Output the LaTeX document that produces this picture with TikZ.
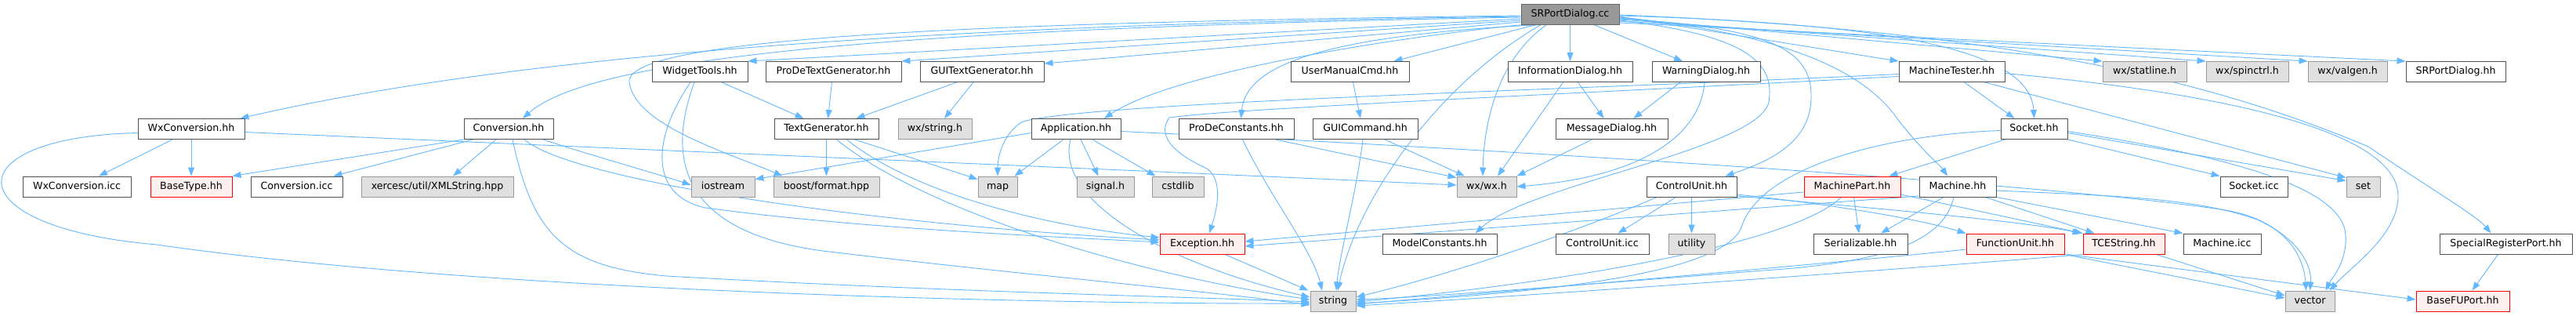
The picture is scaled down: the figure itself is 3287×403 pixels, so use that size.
\documentclass[tikz,border=0pt]{standalone}
\usepackage{fontspec}
\setmainfont{DejaVu Sans}
\usetikzlibrary{arrows.meta}
\pgfdeclarelayer{edgelayer}
\pgfsetlayers{edgelayer,main}
\definecolor{edgec}{HTML}{63B8FF}
\definecolor{nborder}{HTML}{505050}
\definecolor{extfill}{HTML}{E0E0E0}
\definecolor{extborder}{HTML}{999999}
\definecolor{redfill}{HTML}{FFF0F0}
\definecolor{mainfill}{HTML}{999999}
\definecolor{mainborder}{HTML}{666666}
\tikzset{
  basebox/.style={rectangle, line width=0.9pt, minimum height=26pt, inner xsep=2pt, inner ysep=0pt,
    text height=9.2pt, text depth=2.8pt, font=\fontsize{12.6}{14}\selectfont},
  plainbox/.style={basebox, draw=nborder, fill=white},
  extbox/.style={basebox, draw=extborder, fill=extfill},
  redbox/.style={basebox, draw=red, fill=redfill},
  mainbox/.style={basebox, draw=mainborder, fill=mainfill},
  e/.style={draw=edgec, line width=0.9pt, -{Triangle[length=11pt,width=8pt,fill=edgec]}},
}
\newcommand\nd[6]{\node[#5, minimum width={#3-#2}] (#1) at ({(#2+#3)/2},#4) {#6};}
\begin{document}
\begin{tikzpicture}[x=1pt,y=-1pt]
\useasboundingbox (0,0) rectangle (3287,403);
\begin{pgfonlayer}{edgelayer}
\fill[white] (0,0) rectangle (3287,403);
\end{pgfonlayer}
% rows
\def\ra{18}\def\rb{91.5}\def\rc{164.5}\def\rd{238}\def\re{311}\def\rf{384}
\nd{S}{1941}{2066}{\ra}{mainbox}{SRPortDialog.cc}
\nd{wxconvh}{176}{312}{\rc}{plainbox}{WxConversion.hh}
\nd{convh}{592}{706}{\rc}{plainbox}{Conversion.hh}
\nd{wxconvicc}{29}{167}{\rd}{plainbox}{WxConversion.icc}
\nd{basetype}{192}{296}{\rd}{redbox}{BaseType.hh}
\nd{convicc}{320}{437}{\rd}{plainbox}{Conversion.icc}
\nd{xmlstr}{461}{655}{\rd}{extbox}{xercesc/util/XMLString.hpp}
\nd{widget}{832}{954}{\rb}{plainbox}{WidgetTools.hh}
\nd{prodetg}{977}{1150}{\rb}{plainbox}{ProDeTextGenerator.hh}
\nd{guitg}{1174}{1332}{\rb}{plainbox}{GUITextGenerator.hh}
\nd{textgen}{988}{1121}{\rc}{plainbox}{TextGenerator.hh}
\nd{wxstring}{1146}{1240}{\rc}{extbox}{wx/string.h}
\nd{app}{1316}{1430}{\rc}{plainbox}{Application.hh}
\nd{prodeconst}{1504}{1651}{\rc}{plainbox}{ProDeConstants.hh}
\nd{iostream}{882}{963}{\rd}{extbox}{iostream}
\nd{boost}{987}{1122}{\rd}{extbox}{boost/format.hpp}
\nd{map}{1248}{1298}{\rd}{extbox}{map}
\nd{signal}{1374}{1447}{\rd}{extbox}{signal.h}
\nd{cstdlib}{1470}{1536}{\rd}{extbox}{cstdlib}
\nd{exc}{1480}{1588}{\re}{redbox}{Exception.hh}
\nd{umc}{1647}{1798}{\rb}{plainbox}{UserManualCmd.hh}
\nd{infod}{1924}{2083}{\rb}{plainbox}{InformationDialog.hh}
\nd{warnd}{2108}{2246}{\rb}{plainbox}{WarningDialog.hh}
\nd{guicmd}{1675}{1809}{\rc}{plainbox}{GUICommand.hh}
\nd{msgd}{1985}{2128}{\rc}{plainbox}{MessageDialog.hh}
\nd{wxwx}{1859}{1935}{\rd}{extbox}{wx/wx.h}
\nd{cu}{2101}{2216}{\rd}{plainbox}{ControlUnit.hh}
\nd{mpart}{2302}{2425}{\rd}{redbox}{MachinePart.hh}
\nd{mach}{2449}{2547}{\rd}{plainbox}{Machine.hh}
\nd{modelc}{1764}{1910}{\re}{plainbox}{ModelConstants.hh}
\nd{cuicc}{1985}{2104}{\re}{plainbox}{ControlUnit.icc}
\nd{utility}{2129}{2188}{\re}{extbox}{utility}
\nd{serial}{2314}{2434}{\re}{plainbox}{Serializable.hh}
\nd{fu}{2509}{2634}{\re}{redbox}{FunctionUnit.hh}
\nd{tcestr}{2658}{2762}{\re}{redbox}{TCEString.hh}
\nd{machicc}{2786}{2885}{\re}{plainbox}{Machine.icc}
\nd{srp}{3113}{3282}{\re}{plainbox}{SpecialRegisterPort.hh}
\nd{socket}{2553}{2638}{\rc}{plainbox}{Socket.hh}
\nd{mtester}{2423}{2558}{\rb}{plainbox}{MachineTester.hh}
\nd{statline}{2683}{2790}{\rb}{extbox}{wx/statline.h}
\nd{spinctrl}{2815}{2920}{\rb}{extbox}{wx/spinctrl.h}
\nd{valgen}{2945}{3046}{\rb}{extbox}{wx/valgen.h}
\nd{srpdh}{3070}{3197}{\rb}{plainbox}{SRPortDialog.hh}
\nd{socketicc}{2833}{2919}{\rd}{plainbox}{Socket.icc}
\nd{set}{2994}{3037}{\rd}{extbox}{set}
\nd{vector}{2916}{2979}{\rf}{extbox}{vector}
\nd{basefu}{3083}{3202}{\rf}{redbox}{BaseFUPort.hh}
\nd{string}{1672}{1730}{\rf}{extbox}{string}

\begin{pgfonlayer}{edgelayer}
% ---- edges from SRPortDialog.cc
\draw[e] ([yshift=-6pt]S.west) -- (widget.north east);
\draw[e] ([yshift=-8pt]S.west) -- (prodetg.north east);
\draw[e] ([yshift=-10pt]S.west) -- ([yshift=-3pt]guitg.north east);
\draw[e] ([yshift=-3pt]S.west) .. controls (1300,30) and (700,60) .. ([xshift=-6pt]wxconvh.north east);
\draw[e] ([yshift=-4pt]S.west) .. controls (1200,35) and (760,68) .. ([xshift=18pt]convh.north);
\draw[e] ([yshift=-2pt]S.west) .. controls (1300,28) and (795,45) .. (803,105) .. controls (810,160) and (930,195) .. ([xshift=12pt]boost.north west);
\draw[e] ([xshift=4pt]S.south west) .. controls (1800,45) and (1500,90) .. ([xshift=36pt]app.north);
\draw[e] ([xshift=25pt]S.south west) .. controls (1700,45) and (1590,80) .. ([xshift=6pt]prodeconst.north);
\draw[e] ([xshift=20pt]S.south west) -- ([xshift=-20pt]umc.north east);
\draw[e] (S.south) -- (infod.north);
\draw[e] ([xshift=30pt]S.south) -- ([xshift=-30pt]warnd.north);
\draw[e] ([xshift=-30pt]S.south) .. controls (1905,80) and (1893,170) .. ([xshift=-5pt]wxwx.north);
\draw[e] ([xshift=-37pt]S.south) .. controls (1830,110) and (1730,260) .. ([xshift=6pt]string.north);
\draw[e] ([yshift=-8pt]S.east) .. controls (2230,45) and (2265,80) .. (2257,130) .. controls (2245,190) and (1950,235) .. ([xshift=-28pt]modelc.north east);
\draw[e] ([yshift=-6pt]S.east) .. controls (2250,35) and (2310,60) .. (2311,120) .. controls (2313,180) and (2260,205) .. ([xshift=-15pt]cu.north east);
\draw[e] ([yshift=-4pt]S.east) .. controls (2250,40) and (2370,80) .. (2420,150) .. controls (2450,190) and (2475,210) .. ([xshift=-13pt]mach.north);
\draw[e] ([yshift=-2pt]S.east) .. controls (2400,30) and (2590,60) .. (socket.north);
\draw[e] ([yshift=-3pt]S.east) -- (mtester.north west);
\draw[e] ([yshift=-5pt]S.east) -- (statline.north west);
\draw[e] ([yshift=-7pt]S.east) -- (spinctrl.north west);
\draw[e] ([yshift=-9pt]S.east) -- (valgen.north west);
\draw[e] ([yshift=-11pt]S.east) -- (srpdh.north west);
\draw[e] ([yshift=-1pt]S.east) .. controls (2600,40) and (2850,115) .. (3022,187) .. controls (3100,240) and (3160,275) .. ([xshift=-19pt]srp.north);

% ---- WxConversion.hh
\draw[e] ([xshift=-24pt]wxconvh.south) -- ([xshift=28pt]wxconvicc.north);
\draw[e] (wxconvh.south) -- (basetype.north);
\draw[e] ([yshift=-4pt]wxconvh.east) .. controls (800,190) and (1400,215) .. ([yshift=2pt]wxwx.west);
\draw[e] ([yshift=-5pt]wxconvh.west) .. controls (-60,175) and (-60,290) .. (200,312) .. controls (600,370) and (1300,388) .. ([yshift=-3pt]string.west);

% ---- Conversion.hh
\draw[e] (convh.south west) -- (basetype.north east);
\draw[e] ([xshift=12pt]convh.south west) -- ([xshift=-12pt]convicc.north east);
\draw[e] ([xshift=-16pt]convh.south) -- ([xshift=20pt]xmlstr.north);
\draw[e] ([xshift=44pt]convh.south) .. controls (760,200) and (840,222) .. ([yshift=2pt]iostream.west);
\draw[e] ([xshift=20pt]convh.south) .. controls (730,230) and (1100,285) .. ([yshift=5pt]exc.west);
\draw[e] ([xshift=5pt]convh.south) .. controls (680,300) and (720,340) .. (850,352) .. controls (1200,372) and (1500,378) .. ([yshift=-1pt]string.west);

% ---- WidgetTools / text generators
\draw[e] ([xshift=28pt]widget.south) -- ([xshift=-29pt]textgen.north);
\draw[e] ([xshift=-12pt]widget.south) .. controls (830,180) and (830,250) .. (900,265) .. controls (1100,292) and (1350,302) .. ([yshift=2pt]exc.west);
\draw[e] ([xshift=-7pt]widget.south) .. controls (840,230) and (900,300) .. (1050,320) .. controls (1300,350) and (1550,372) .. ([yshift=-5pt]string.west);
\draw[e] ([xshift=-2pt]prodetg.south) -- ([xshift=2pt]textgen.north);
\draw[e] ([xshift=-32pt]guitg.south) -- ([xshift=38pt]textgen.north);
\draw[e] ([xshift=-11pt]guitg.south) -- ([xshift=12pt]wxstring.north);
\draw[e] (textgen.south) -- (boost.north);
\draw[e] ([xshift=36pt]textgen.south) -- ([yshift=-4pt]map.north west);
\draw[e] ([xshift=26pt]textgen.south) .. controls (1150,235) and (1300,285) .. ([yshift=8pt]exc.west);
\draw[e] ([xshift=13pt]textgen.south) .. controls (1180,270) and (1450,350) .. ([yshift=2pt]string.west);

% ---- Application.hh
\draw[e] ([yshift=-5pt]app.west) -- ([yshift=-4pt]iostream.north east);
\draw[e] ([xshift=-16pt]app.south) -- ([xshift=-4pt]map.north east);
\draw[e] ([xshift=6pt]app.south) -- ([xshift=-9pt]signal.north);
\draw[e] ([xshift=21pt]app.south) -- ([xshift=5pt]cstdlib.north west);
\draw[e] ([xshift=-7pt]app.south) .. controls (1345,260) and (1500,340) .. ([yshift=5pt]string.west);
\draw[e] ([yshift=-3pt]app.east) .. controls (1900,190) and (2600,232) .. (2840,268) .. controls (2920,282) and (2940,330) .. ([xshift=-5pt]vector.north);

% ---- ProDeConstants, GUI commands, dialogs
\draw[e] ([xshift=50pt]prodeconst.south) -- ([yshift=-2pt]wxwx.north west);
\draw[e] ([xshift=8pt]prodeconst.south) .. controls (1620,250) and (1675,320) .. ([xshift=-14pt]string.north);
\draw[e] ([xshift=4pt]umc.south) -- ([xshift=-6pt]guicmd.north);
\draw[e] ([xshift=25pt]guicmd.south) -- ([xshift=-28pt]wxwx.north);
\draw[e] ([xshift=-3pt]guicmd.south) .. controls (1730,250) and (1710,320) .. ([xshift=4pt]string.north);
\draw[e] ([xshift=10pt]infod.south) -- ([xshift=-10pt]msgd.north);
\draw[e] ([xshift=-9pt]infod.south) -- ([xshift=14pt]wxwx.north);
\draw[e] ([xshift=-33pt]warnd.south) -- ([xshift=28pt]msgd.north);
\draw[e] ([xshift=-2pt]warnd.south) .. controls (2170,170) and (2100,225) .. (wxwx.east);
\draw[e] ([xshift=-25pt]msgd.south) -- (wxwx.north east);

% ---- MachineTester.hh
\draw[e] ([yshift=-3pt]mtester.west) .. controls (2000,115) and (1400,130) .. (1305,155) .. controls (1280,170) and (1273,200) .. (map.north);
\draw[e] ([yshift=-6pt]mtester.west) .. controls (2000,120) and (1580,138) .. (1492,150) .. controls (1478,170) and (1490,192) .. (1540,215) .. controls (1562,230) and (1552,270) .. ([xshift=9pt]exc.north);
\draw[e] ([xshift=16pt]mtester.south) -- ([xshift=-25pt]socket.north);
\draw[e] ([xshift=42pt]mtester.south) -- ([yshift=-2pt]set.north west);
\draw[e] ([yshift=-2pt]mtester.east) .. controls (2900,125) and (3060,180) .. (3060,250) .. controls (3060,300) and (3000,340) .. ([xshift=25pt]vector.north);

% ---- Socket.hh
\draw[e] ([xshift=-37pt]socket.south) -- ([xshift=-15pt]mpart.north east);
\draw[e] ([yshift=-2pt]socket.west) .. controls (2400,172) and (2245,215) .. (2222,290) .. controls (2200,345) and (2000,372) .. ([yshift=-3pt]string.east);
\draw[e] (socket.south east) -- (socketicc.north west);
\draw[e] ([yshift=-5pt]socket.east) -- ([yshift=-6pt]set.north west);
\draw[e] ([yshift=-3pt]socket.east) .. controls (2850,200) and (2990,240) .. (2993,300) .. controls (2995,335) and (2975,355) .. ([xshift=20pt]vector.north);

% ---- MachinePart.hh
\draw[e] ([xshift=2pt]mpart.south) -- ([xshift=-2pt]serial.north);
\draw[e] ([yshift=-7pt]mpart.west) -- ([yshift=3pt]exc.east);
\draw[e] ([yshift=-10pt]mpart.east) -- (tcestr.north west);
\draw[e] ([xshift=-14pt]mpart.south) .. controls (2290,310) and (2000,360) .. ([yshift=-1pt]string.east);

% ---- Machine.hh
\draw[e] ([xshift=-18pt]mach.south) -- ([xshift=26pt]serial.north);
\draw[e] ([yshift=-12pt]mach.west) -- ([yshift=-3pt]exc.east);
\draw[e] ([xshift=35pt]mach.south) -- ([xshift=15pt]tcestr.north west);
\draw[e] (mach.south east) -- (machicc.north west);
\draw[e] ([yshift=-5pt]mach.east) .. controls (2700,250) and (2800,252) .. (2880,280) .. controls (2935,305) and (2950,340) .. (vector.north);
\draw[e] ([xshift=-5pt]mach.south) .. controls (2480,310) and (2400,335) .. (2250,345) .. controls (2000,365) and (1800,380) .. ([yshift=2pt]string.east);

% ---- ControlUnit.hh
\draw[e] ([xshift=-20pt]cu.south) -- ([xshift=20pt]cuicc.north);
\draw[e] (cu.south) -- (utility.north);
\draw[e] ([xshift=-44pt]cu.south) .. controls (2000,300) and (1850,350) .. ([yshift=5pt]string.east);
\draw[e] ([yshift=-10pt]cu.east) .. controls (2350,262) and (2450,280) .. (fu.north west);
\draw[e] ([yshift=-12pt]cu.east) .. controls (2400,266) and (2580,282) .. ([xshift=-2pt]tcestr.north west);

% ---- FunctionUnit, TCEString, SpecialRegisterPort, Exception
\draw[e] ([yshift=-7pt]fu.west) .. controls (2400,330) and (2000,365) .. ([yshift=-4pt]string.east);
\draw[e] (fu.south east) -- ([yshift=4pt]vector.west);
\draw[e] ([xshift=3pt]fu.south east) -- ([yshift=2pt]basefu.west);
\draw[e] (tcestr.south west) .. controls (2500,338) and (2000,374) .. ([yshift=-6pt]string.east);
\draw[e] ([xshift=-11pt]tcestr.south east) -- ([yshift=7pt]vector.west);
\draw[e] ([xshift=-10pt]srp.south) -- ([xshift=12pt]basefu.north);
\draw[e] ([xshift=29pt]exc.south) -- ([xshift=-2pt]string.north west);
\end{pgfonlayer}
\end{tikzpicture}
\end{document}
